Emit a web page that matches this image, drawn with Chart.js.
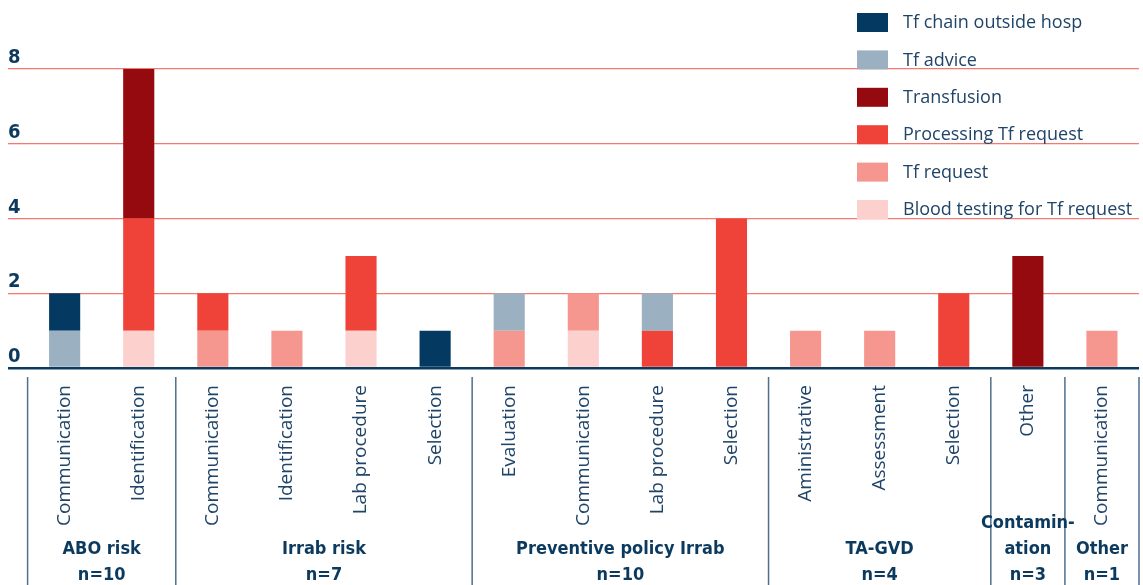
<!DOCTYPE html>
<html>
<head>
<meta charset="utf-8">
<script src="https://cdn.jsdelivr.net/npm/chart.js@4.4.1/dist/chart.umd.min.js"></script>
<style>
  html, body { margin: 0; padding: 0; background: #fff; }
  #wrap { width: 1143px; height: 585px; position: relative; }
</style>
</head>
<body>
<div id="wrap"><canvas id="chart"></canvas></div>
<script>
// Data
const categories = ['Communication', 'Identification', 'Communication', 'Identification', 'Lab procedure', 'Selection',
    'Evaluation', 'Communication', 'Lab procedure', 'Selection', 'Aministrative', 'Assessment', 'Selection', 'Other', 'Communication'];

const bloodTesting = [0, 1, 0, 0, 1, 0, 0, 1, 0, 0, 0, 0, 0, 0, 0];
const tfRequest    = [0, 0, 1, 1, 0, 0, 1, 1, 0, 0, 1, 1, 0, 0, 1];
const processing   = [0, 3, 1, 0, 2, 0, 0, 0, 1, 4, 0, 0, 2, 0, 0];
const transfusion  = [0, 4, 0, 0, 0, 0, 0, 0, 0, 0, 0, 0, 0, 3, 0];
const tfAdvice     = [1, 0, 0, 0, 0, 0, 1, 0, 1, 0, 0, 0, 0, 0, 0];
const tfChain      = [1, 0, 0, 0, 0, 1, 0, 0, 0, 0, 0, 0, 0, 0, 0];

const yTicks = [0, 2, 4, 6, 8];

const groupNames  = [['ABO risk'], ['Irrab risk'], ['Preventive policy Irrab'], ['TA-GVD'], ['Contamin-', 'ation'], ['Other']];
const groupCounts = ['n=10', 'n=7', 'n=10', 'n=4', 'n=3', 'n=1'];
const groupSizes  = [2, 4, 4, 3, 1, 1];

const TEXT = '#1f4468';
const NAVY = '#0c3a5e';
const GRID = '#f37a70';
const LIGHT_FONT = "'Open Sans', 'Noto Sans', sans-serif";
const BOLD_FONT = "'DejaVu Sans Condensed', 'Liberation Sans Narrow', sans-serif";

// Custom legend + group labels under the axis
const decor = {
    id: 'decor',
    afterDraw(chart) {
        const ctx = chart.ctx;
        const x = chart.scales.x;
        const band = x.getPixelForValue(1) - x.getPixelForValue(0);
        ctx.save();

        // legend, top dataset first
        const ds = chart.data.datasets.slice().reverse();
        ctx.font = '18px ' + LIGHT_FONT;
        ctx.textBaseline = 'middle';
        ctx.textAlign = 'left';
        ds.forEach((d, i) => {
            const y = 13 + i * 37.4;
            ctx.fillStyle = d.backgroundColor;
            ctx.fillRect(857, y, 31, 19);
            ctx.fillStyle = TEXT;
            ctx.fillText(d.label, 903, y + 10);
        });

        // group separators and names
        let start = 0;
        ctx.strokeStyle = '#4f6f8c';
        ctx.lineWidth = 1.5;
        const edges = [x.getPixelForValue(0) - band / 2];
        groupSizes.forEach(s => {
            start += s;
            edges.push(x.getPixelForValue(start - 1) + band / 2);
        });
        edges.forEach(px => {
            ctx.beginPath();
            ctx.moveTo(px, 377);
            ctx.lineTo(px, 585);
            ctx.stroke();
        });

        ctx.font = 'bold 18px ' + BOLD_FONT;
        ctx.textAlign = 'center';
        ctx.textBaseline = 'alphabetic';
        ctx.fillStyle = NAVY;
        groupNames.forEach((lines, g) => {
            const cx = (edges[g] + edges[g + 1]) / 2;
            const all = lines.concat([groupCounts[g]]);
            all.forEach((t, k) => {
                ctx.fillText(t, cx, 580 - (all.length - 1 - k) * 26);
            });
        });
        ctx.restore();
    }
};

const ctx = document.getElementById('chart').getContext('2d');
const chart = new Chart(ctx, {
    type: 'bar',
    data: {
        labels: categories,
        datasets: [
            { label: 'Blood testing for Tf request', data: bloodTesting, backgroundColor: '#fbd0cd' },
            { label: 'Tf request', data: tfRequest, backgroundColor: '#f5978f' },
            { label: 'Processing Tf request', data: processing, backgroundColor: '#ef4238' },
            { label: 'Transfusion', data: transfusion, backgroundColor: '#950a0e' },
            { label: 'Tf advice', data: tfAdvice, backgroundColor: '#9bb0c0' },
            { label: 'Tf chain outside hosp', data: tfChain, backgroundColor: '#043a61' }
        ]
    },
    options: {
        responsive: true,
        maintainAspectRatio: false,
        animation: false,
        layout: { padding: { top: 69, left: 8, right: 4, bottom: 0 } },
        datasets: { bar: { categoryPercentage: 1, barPercentage: 0.42, borderWidth: 0 } },
        scales: {
            x: {
                stacked: true,
                grid: { display: false },
                border: { display: false },
                ticks: {
                    autoSkip: false,
                    minRotation: 90,
                    maxRotation: 90,
                    padding: 9,
                    color: TEXT,
                    font: { family: LIGHT_FONT, size: 19 }
                },
                afterFit(scale) { scale.height = 217; }
            },
            y: {
                stacked: true,
                min: 0,
                max: 8,
                afterBuildTicks(scale) { scale.ticks = yTicks.map(v => ({ value: v })); },
                afterFit(scale) { scale.width = 19.6; },
                border: { display: false },
                grid: {
                    color: c => c.tick && c.tick.value === 0 ? NAVY : GRID,
                    lineWidth: c => c.tick && c.tick.value === 0 ? 2.5 : 1.3,
                    tickLength: 19.6,
                    drawTicks: true
                },
                ticks: {
                    crossAlign: 'far',
                    padding: 0,
                    labelOffset: -11,
                    color: NAVY,
                    font: { family: BOLD_FONT, size: 20, weight: 'bold' }
                }
            }
        },
        plugins: {
            legend: { display: false },
            tooltip: { enabled: false }
        }
    },
    plugins: [decor]
});
</script>
</body>
</html>
